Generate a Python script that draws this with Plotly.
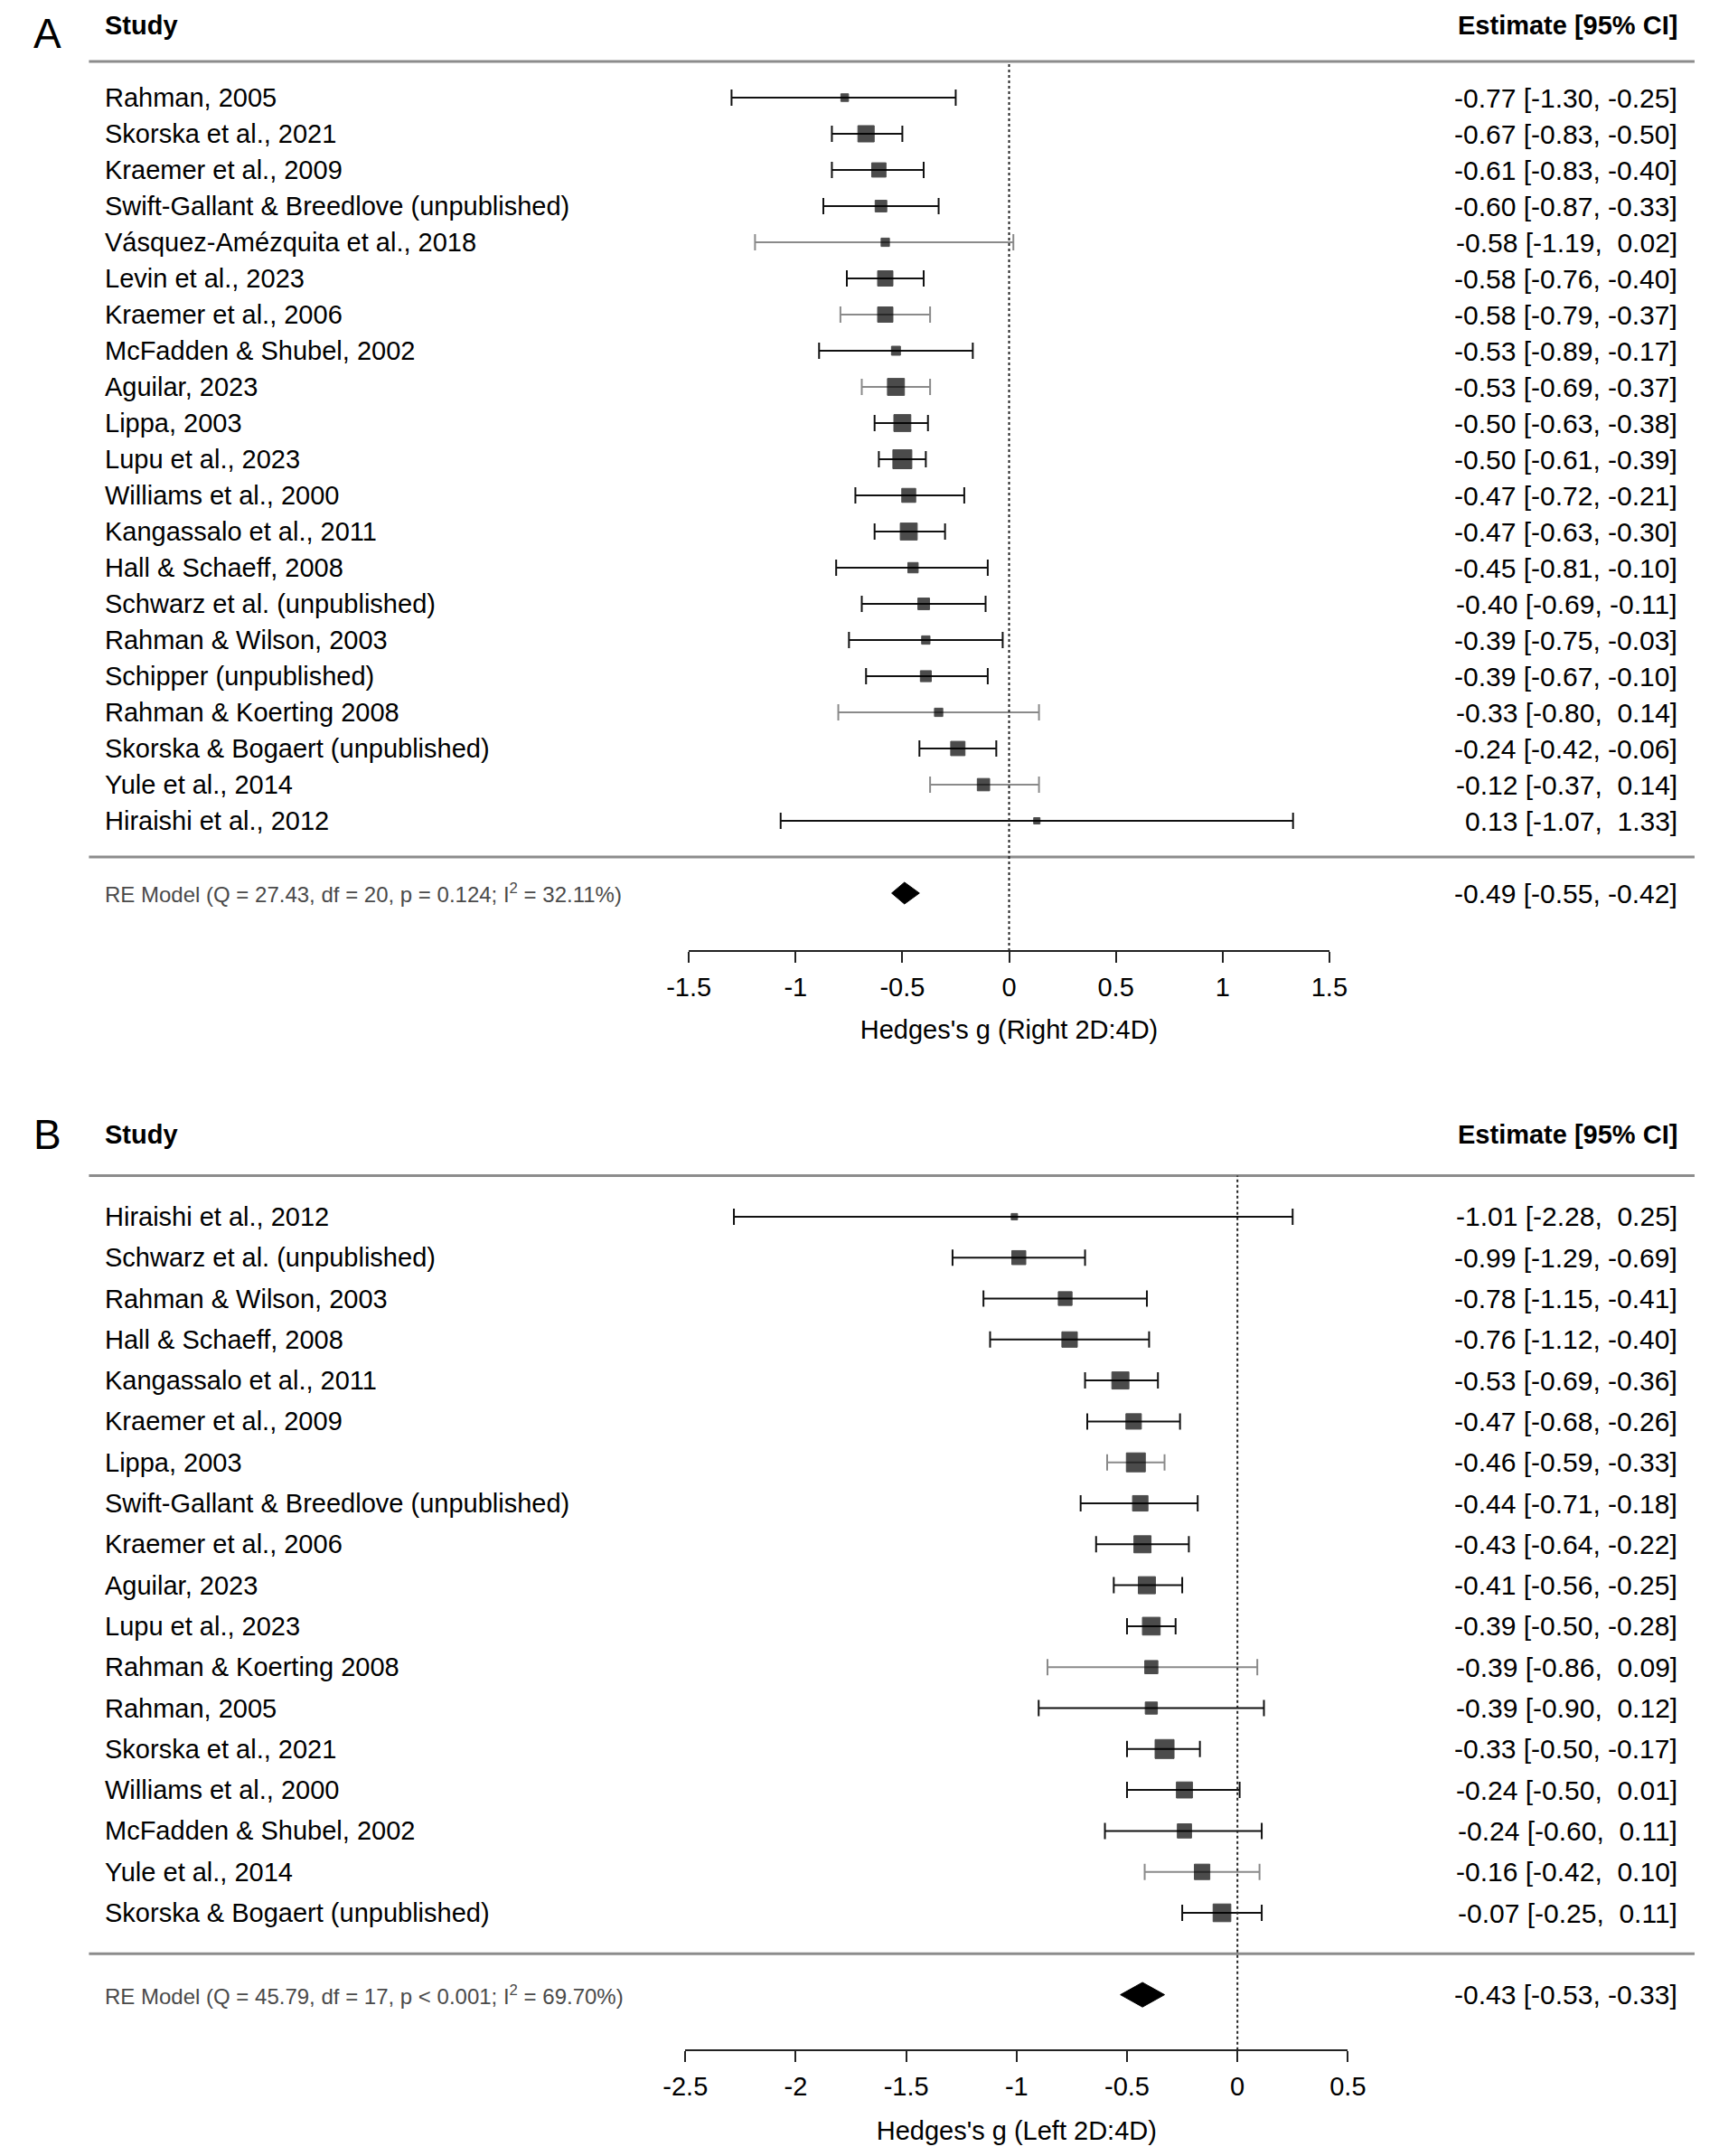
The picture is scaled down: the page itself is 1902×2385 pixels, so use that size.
import plotly.graph_objects as go

FONT = "Liberation Sans, Arial, sans-serif"
# page is 1902x2385; the html body adds an 8px margin, so the figure is a bit smaller
PAGE_W, PAGE_H, OFF = 1902, 2385, 8
W, H = PAGE_W - 2 * OFF, PAGE_H - 2 * OFF

# ---- panel A: right hand 2D:4D ----
studies_a = ["Rahman, 2005", "Skorska et al., 2021", "Kraemer et al., 2009",
             "Swift-Gallant & Breedlove (unpublished)", "Vásquez-Amézquita et al., 2018",
             "Levin et al., 2023", "Kraemer et al., 2006", "McFadden & Shubel, 2002",
             "Aguilar, 2023", "Lippa, 2003", "Lupu et al., 2023", "Williams et al., 2000",
             "Kangassalo et al., 2011", "Hall & Schaeff, 2008", "Schwarz et al. (unpublished)",
             "Rahman & Wilson, 2003", "Schipper (unpublished)", "Rahman & Koerting 2008",
             "Skorska & Bogaert (unpublished)", "Yule et al., 2014", "Hiraishi et al., 2012"]
est_a = [-0.77, -0.67, -0.61, -0.60, -0.58, -0.58, -0.58, -0.53, -0.53, -0.50, -0.50,
         -0.47, -0.47, -0.45, -0.40, -0.39, -0.39, -0.33, -0.24, -0.12, 0.13]
lo_a = [-1.30, -0.83, -0.83, -0.87, -1.19, -0.76, -0.79, -0.89, -0.69, -0.63, -0.61,
        -0.72, -0.63, -0.81, -0.69, -0.75, -0.67, -0.80, -0.42, -0.37, -1.07]
hi_a = [-0.25, -0.50, -0.40, -0.33, 0.02, -0.40, -0.37, -0.17, -0.37, -0.38, -0.39,
        -0.21, -0.30, -0.10, -0.11, -0.03, -0.10, 0.14, -0.06, 0.14, 1.33]
weights_a = [1.8, 7.0, 5.8, 4.2, 2.2, 6.4, 6.4, 2.6, 7.4, 7.4, 8.6, 5.6, 7.4, 3.4, 4.2,
             2.2, 3.8, 2.2, 5.8, 4.6, 1.0]
re_a = (-0.49, -0.55, -0.42)
re_label_a = "RE Model (Q = 27.43, df = 20, p = 0.124; I<sup>2</sup> = 32.11%)"
ticks_a = [-1.5, -1, -0.5, 0, 0.5, 1, 1.5]
xlab_a = "Hedges's g (Right 2D:4D)"

# ---- panel B: left hand 2D:4D ----
studies_b = ["Hiraishi et al., 2012", "Schwarz et al. (unpublished)", "Rahman & Wilson, 2003",
             "Hall & Schaeff, 2008", "Kangassalo et al., 2011", "Kraemer et al., 2009",
             "Lippa, 2003", "Swift-Gallant & Breedlove (unpublished)", "Kraemer et al., 2006",
             "Aguilar, 2023", "Lupu et al., 2023", "Rahman & Koerting 2008", "Rahman, 2005",
             "Skorska et al., 2021", "Williams et al., 2000", "McFadden & Shubel, 2002",
             "Yule et al., 2014", "Skorska & Bogaert (unpublished)"]
est_b = [-1.01, -0.99, -0.78, -0.76, -0.53, -0.47, -0.46, -0.44, -0.43, -0.41, -0.39,
         -0.39, -0.39, -0.33, -0.24, -0.24, -0.16, -0.07]
lo_b = [-2.28, -1.29, -1.15, -1.12, -0.69, -0.68, -0.59, -0.71, -0.64, -0.56, -0.50,
        -0.86, -0.90, -0.50, -0.50, -0.60, -0.42, -0.25]
hi_b = [0.25, -0.69, -0.41, -0.40, -0.36, -0.26, -0.33, -0.18, -0.22, -0.25, -0.28,
        0.09, 0.12, -0.17, 0.01, 0.11, 0.10, 0.11]
weights_b = [1.2, 4.9, 4.8, 5.6, 6.4, 5.6, 7.3, 5.6, 6.4, 6.4, 6.7, 4.5, 4.0, 7.3, 5.9,
             5.0, 5.6, 6.7]
re_b = (-0.43, -0.53, -0.33)
re_label_b = "RE Model (Q = 45.79, df = 17, p &lt; 0.001; I<sup>2</sup> = 69.70%)"
ticks_b = [-2.5, -2, -1.5, -1, -0.5, 0, 0.5]
xlab_b = "Hedges's g (Left 2D:4D)"

# CIs that come out grey in the original image
grey_a = {"Vásquez-Amézquita et al., 2018", "Kraemer et al., 2006", "Aguilar, 2023",
          "Rahman & Koerting 2008", "Yule et al., 2014"}
grey_b = {"Rahman & Koerting 2008", "Yule et al., 2014", "Lippa, 2003"}


def px(x):
    return (x - OFF) / W


def py(y):
    return 1 - (y - OFF) / H


def fmt_ci(e, l, h):
    def f(v):
        s = f"{v:.2f}"
        return s if v < 0 else "\u00a0" + s
    return f"{e:.2f} [{f(l)}, {f(h)}]"


fig = go.Figure()
annotations = []
shapes = []


def add_panel(letter, names, est, lo, hi, wts, re, re_label, xname, yname, grey):
    k = len(names)
    rows = [k - i for i in range(k)]
    wmin, wmax = min(wts), max(wts)
    # box side grows linearly with weight, like metafor's psize
    sizes = [7 + 14 * (w - wmin) / (wmax - wmin) for w in wts]

    for is_grey in (False, True):
        idx = [i for i in range(k) if (names[i] in grey) == is_grey]
        if not idx:
            continue
        fig.add_trace(go.Scatter(
            x=[est[i] for i in idx], y=[rows[i] for i in idx],
            mode="markers",
            marker=dict(symbol="square", size=[sizes[i] for i in idx], color="black",
                        line=dict(width=1, color="black")),
            error_x=dict(type="data", symmetric=False,
                         array=[hi[i] - est[i] for i in idx],
                         arrayminus=[est[i] - lo[i] for i in idx],
                         color="#8a8a8a" if is_grey else "#111111",
                         thickness=2, width=9),
            xaxis=xname, yaxis=yname, cliponaxis=False,
            showlegend=False, hoverinfo="skip"))

    # summary diamond
    e, l, h = re
    dh = 0.3
    fig.add_trace(go.Scatter(
        x=[l, e, h, e, l], y=[-1, -1 + dh, -1, -1 - dh, -1],
        mode="lines", fill="toself", fillcolor="black",
        line=dict(color="black", width=1),
        xaxis=xname, yaxis=yname, showlegend=False, hoverinfo="skip"))

    yref = yname
    # separators and reference line
    for yy in (k + 1, 0):
        shapes.append(dict(type="line", xref="paper", yref=yref, x0=px(75), x1=px(1895),
                           y0=yy, y1=yy, line=dict(color="#8c8c8c", width=3)))
    shapes.append(dict(type="line", xref=xname, yref=yref, x0=0, x1=0,
                       y0=-5, y1=k + 1, line=dict(color="#222222", width=2, dash="dot")))

    txt = dict(family=FONT, size=29, color="black")
    est_font = dict(family=FONT, size=30, color="black")
    for r, n, ee, ll, hh in zip(rows, names, est, lo, hi):
        annotations.append(dict(text=n, xref="paper", yref=yref, x=px(91), y=r,
                                xanchor="left", yanchor="middle", showarrow=False, font=txt))
        annotations.append(dict(text=fmt_ci(ee, ll, hh), xref="paper", yref=yref,
                                x=px(1878), y=r, xanchor="right", yanchor="middle",
                                showarrow=False, font=est_font))
    annotations.append(dict(text="<b>Study</b>", xref="paper", yref=yref, x=px(91), y=k + 2,
                            xanchor="left", yanchor="middle", showarrow=False, font=txt))
    annotations.append(dict(text="<b>Estimate [95% CI]</b>", xref="paper", yref=yref,
                            x=px(1878), y=k + 2, xanchor="right", yanchor="middle",
                            showarrow=False, font=txt))
    # panel letter; A would poke out of the top edge, so it hangs from the top instead
    letter_pos = dict(yref="paper", y=py(9), yanchor="top") if letter == "A" else \
        dict(yref=yref, y=k + 2, yanchor="middle")
    annotations.append(dict(text=letter, xref="paper", x=px(10), xanchor="left",
                            showarrow=False, font=dict(family=FONT, size=46, color="black"),
                            **letter_pos))
    annotations.append(dict(text=re_label, xref="paper", yref=yref, x=px(91), y=-1,
                            xanchor="left", yanchor="middle", showarrow=False,
                            font=dict(family=FONT, size=24, color="#4a4a4a")))
    annotations.append(dict(text=fmt_ci(*re), xref="paper", yref=yref, x=px(1878), y=-1,
                            xanchor="right", yanchor="middle", showarrow=False,
                            font=est_font))


add_panel("A", studies_a, est_a, lo_a, hi_a, weights_a, re_a, re_label_a, "x", "y", grey_a)
add_panel("B", studies_b, est_b, lo_b, hi_b, weights_b, re_b, re_label_b, "x2", "y2", grey_b)


def xaxis_style(dom, ticks, title, anchor, standoff):
    return dict(domain=dom, range=[ticks[0], ticks[-1]], anchor=anchor,
                showgrid=False, zeroline=False, showline=True, linecolor="#222222",
                linewidth=2, ticks="outside", ticklen=12, tickwidth=2, tickcolor="#222222",
                tickvals=ticks, ticktext=[f"{t:g}" for t in ticks],
                tickfont=dict(family=FONT, size=29, color="black"), ticklabelstandoff=2,
                title=dict(text=title, font=dict(family=FONT, size=29, color="black"),
                           standoff=standoff),
                fixedrange=True)


# row 1 of panel A sits at y=908px with 40px per row, panel B at 2116px with 45.3px
fig.update_layout(
    width=W, height=H,
    margin=dict(l=0, r=0, t=0, b=0),
    paper_bgcolor="white", plot_bgcolor="white",
    xaxis=xaxis_style([px(755), px(1481)], ticks_a, xlab_a, "y", 22),
    yaxis=dict(domain=[py(1051), py(8)], range=[1 - (1051 - 908) / 40, 1 + (908 - 8) / 40],
               visible=False, anchor="x", fixedrange=True),
    xaxis2=xaxis_style([px(751), px(1502)], ticks_b, xlab_b, "y2", 24),
    yaxis2=dict(domain=[py(2267), py(1200)],
                range=[1 - (2267 - 2116) / 45.3, 1 + (2116 - 1200) / 45.3],
                visible=False, anchor="x2", fixedrange=True),
    shapes=shapes,
    annotations=annotations,
)

fig.write_html("out.html")
